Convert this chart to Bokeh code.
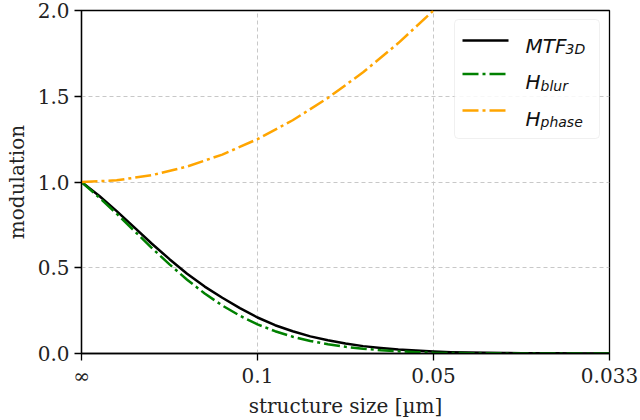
from bokeh.plotting import figure
from bokeh.models import Range1d, FixedTicker, Label, BoxAnnotation, Arrow
from bokeh.embed import file_html
from bokeh.resources import INLINE

# spatial frequency [1/µm]; structure size = 1/frequency
freq = list(range(0, 31))
mtf_3d = [1.00, 0.92, 0.83, 0.735, 0.64, 0.55, 0.465, 0.39, 0.325, 0.265,
          0.21, 0.165, 0.13, 0.10, 0.077, 0.058, 0.043, 0.032, 0.023, 0.017,
          0.012, 0.008, 0.006, 0.004, 0.003, 0.002, 0.0015, 0.001, 0.0007, 0.0005,
          0.0003]
h_blur = [1.00, 0.91, 0.815, 0.715, 0.615, 0.52, 0.43, 0.35, 0.28, 0.22,
          0.17, 0.13, 0.098, 0.073, 0.054, 0.039, 0.028, 0.019, 0.013, 0.008,
          0.005, 0.003, 0.002, 0.001, 0.0007, 0.0004, 0.0002, 0.0001, 0.0001, 0.0,
          0.0]
phase_freq = [0, 2, 4, 6, 8, 10, 12, 14, 16, 18, 20, 22]
h_phase = [1.00, 1.01, 1.04, 1.09, 1.16, 1.25, 1.36, 1.49, 1.64, 1.81, 2.00, 2.21]

x_ticks = [0, 10, 20, 30]
x_tick_labels = ["∞", "0.1", "0.05", "0.033"]
y_ticks = [0.0, 0.5, 1.0, 1.5, 2.0]
x_label = "structure size [µm]"
y_label = "modulation"

SERIF = "DejaVu Serif"
SANS = "DejaVu Sans"
FS = "20px"

p = figure(width=640, height=420, x_range=Range1d(0, 30), y_range=Range1d(0, 2),
           output_backend="svg", toolbar_location=None,
           min_border_left=81, min_border_right=31, min_border_top=10, min_border_bottom=67)
p.background_fill_color = "white"
p.border_fill_color = "white"
p.outline_line_color = "black"
p.outline_line_width = 1.3

p.xaxis.ticker = FixedTicker(ticks=x_ticks)
p.xaxis.major_label_overrides = {t: l for t, l in zip(x_ticks, x_tick_labels)}
p.yaxis.ticker = FixedTicker(ticks=y_ticks)
p.yaxis.major_label_overrides = {t: f"{t:.1f}" for t in y_ticks}

for ax in (p.xaxis[0], p.yaxis[0]):
    ax.minor_tick_line_color = None
    ax.major_tick_in = 0
    ax.major_tick_out = 7
    ax.axis_line_color = "black"
    ax.axis_line_width = 1.3
    ax.major_tick_line_width = 1.3
    ax.major_label_text_font = SERIF
    ax.major_label_text_font_size = FS
    ax.major_label_text_color = "#222222"
    ax.axis_label_text_font = SERIF
    ax.axis_label_text_font_size = FS
    ax.axis_label_text_font_style = "normal"
    ax.axis_label_text_color = "#222222"

p.xaxis.axis_label = x_label
p.yaxis.axis_label = y_label
p.xaxis.major_label_standoff = 3
p.xaxis.axis_label_standoff = 3
p.yaxis.major_label_standoff = 5
p.yaxis.axis_label_standoff = 6

p.xgrid.ticker = FixedTicker(ticks=x_ticks)
p.ygrid.ticker = FixedTicker(ticks=y_ticks)
for g in (p.xgrid[0], p.ygrid[0]):
    g.grid_line_color = "#c8c8c8"
    g.grid_line_dash = "4 3"
    g.grid_line_width = 1

DASHDOT = "16 4 3 4"
LW = 2.5
p.line(freq, mtf_3d, line_color="black", line_width=LW, line_join="round")
p.line(freq, h_blur, line_color="#008000", line_width=LW, line_dash=DASHDOT)
p.line(phase_freq, h_phase, line_color="#ffa500", line_width=LW, line_dash=DASHDOT)

# custom legend (frame-relative screen units, origin bottom-left)
p.add_layout(BoxAnnotation(left=373, right=518, top=334, bottom=215,
                           left_units="screen", right_units="screen",
                           top_units="screen", bottom_units="screen",
                           fill_color="white", fill_alpha=0.85,
                           line_color="#cccccc", line_width=1, border_radius=4))

entries = [
    ("black", None, "MTF", "3D", 313, 308, 305, 40),
    ("#008000", DASHDOT, "H", "blur", 279.5, 271.5, 268, 15),
    ("#ffa500", DASHDOT, "H", "phase", 243, 235, 232, 15),
]
for color, dash, main, sub, ly, by, sby, mw in entries:
    kw = dict(line_dash=dash) if dash else {}
    p.add_layout(Arrow(x_start=381, y_start=ly, x_end=427, y_end=ly,
                       start_units="screen", end_units="screen",
                       start=None, end=None, line_color=color, line_width=LW, **kw))
    p.add_layout(Label(x=444, y=by, x_units="screen", y_units="screen", text=main,
                       text_font=SANS, text_font_style="italic", text_font_size=FS,
                       text_baseline="alphabetic", text_color="#111111"))
    p.add_layout(Label(x=444 + mw, y=sby, x_units="screen", y_units="screen", text=sub,
                       text_font=SANS, text_font_style="italic", text_font_size="14px",
                       text_baseline="alphabetic", text_color="#111111"))

open("out.html", "w").write(file_html(p, INLINE))
